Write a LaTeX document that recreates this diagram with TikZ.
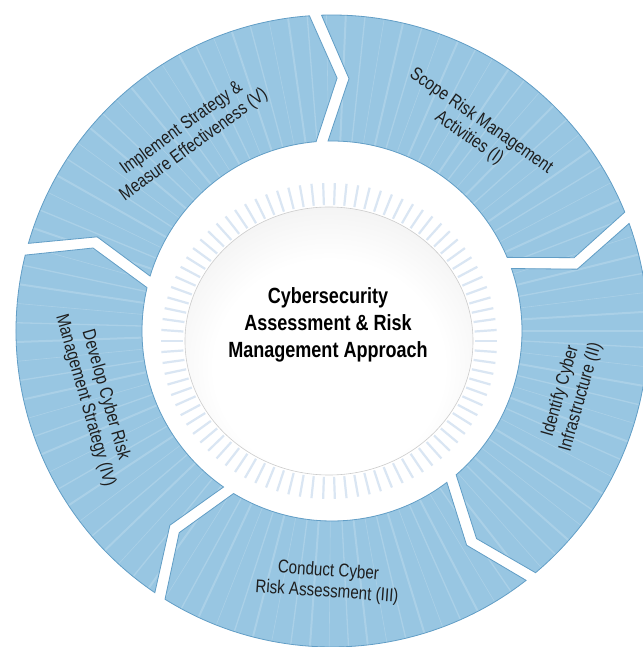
\documentclass[tikz,border=0pt]{standalone}
\usepackage{fontspec}
\setmainfont{Liberation Sans}
\newfontfamily\narrowsf[FakeStretch=0.82]{Liberation Sans}
\usetikzlibrary{shapes.geometric}

\definecolor{segblue}{RGB}{152,198,226}
\definecolor{segedge}{RGB}{98,158,198}
\definecolor{raylight}{RGB}{218,230,243}
\definecolor{labelgray}{RGB}{30,30,30}

% ring geometry (1 unit = 1pt)
\newcommand{\Rout}{316}
\newcommand{\Rin}{190}
\newcommand{\Rmid}{253}
\newcommand{\hgo}{1.1}
\newcommand{\hgi}{1.8}
\newcommand{\hgm}{1.35}
\newcommand{\tipd}{5.5}

% one chevron segment: #1 = notch boundary, #2 = tip boundary (clockwise)
\newcommand{\ringseg}[2]{%
  ({#1-\hgo}:\Rout) arc[start angle={#1-\hgo}, end angle={#2+\hgo}, radius=\Rout]
  -- ({#2-\tipd+\hgm}:\Rmid)
  -- ({#2+\hgi}:\Rin) arc[start angle={#2+\hgi}, end angle={#1-\hgi}, radius=\Rin]
  -- ({#1-\tipd-\hgm}:\Rmid) -- cycle}

\pgfdeclareradialshading{hubshade}{\pgfpoint{0bp}{-8bp}}{%
  color(0bp)=(white); color(20bp)=(white); color(36bp)=(black!8);
  color(46bp)=(black!22); color(52bp)=(black!32)}

\tikzset{
  segment/.style={fill=segblue},
  segline/.style={draw=segedge, line width=0.8pt},
  streak/.style={draw=white, opacity=0.18},
  hubray/.style={draw=raylight, line width=2.2pt},
  hub/.style={ellipse, shading=hubshade, draw=black!20, line width=0.6pt,
    minimum width=288pt, minimum height=268pt, inner sep=0pt},
  hubtitle/.style={align=center, text=black,
    font=\narrowsf\bfseries\fontsize{22}{27}\selectfont},
  seglabel/.style={align=center, text=labelgray, inner sep=0pt,
    font=\narrowsf\fontsize{18.5}{21}\selectfont}
}

\begin{document}
\begin{tikzpicture}[x=1pt, y=1pt]

    \useasboundingbox[fill=white] (-332,-316) rectangle (310,331);

    % ============================================================
    % OUTER RING: FIVE CHEVRON SEGMENTS
    % ============================================================
    \foreach \ta/\tb in {93/21, 21/-51, -51/-123, 237/165, 165/93} {
        \fill[segment] \ringseg{\ta}{\tb};
        \begin{scope}
            \clip \ringseg{\ta}{\tb};
            \foreach \s [count=\i] in {0,3.5,...,357} {
                \pgfmathsetmacro{\w}{0.6+0.7*mod(\i,3)}
                \draw[streak, line width=\w pt] (\s:\Rin) -- (\s:\Rout);
            }
        \end{scope}
        \draw[segline] \ringseg{\ta}{\tb};
    }

    % ============================================================
    % CENTRAL HUB WITH LIGHT RAYS
    % ============================================================
    \foreach \a in {0,4,...,356}
        \draw[hubray] ({-3+146*cos(\a)},{-10+136*sin(\a)})
            -- ({-3+168*cos(\a)},{-10+158*sin(\a)});

    \node[hub] (hub) at (-3,-10) {};
    \node[hubtitle] (title) at (-4,6)
        {Cybersecurity\\Assessment \& Risk\\Management Approach};

    % ============================================================
    % SEGMENT LABELS
    % ============================================================
    \node[seglabel, rotate=-35] (scope) at (54.6:247)
        {Scope Risk Management\\Activities (I)};
    \node[seglabel, rotate=74] (identify) at (-14.8:247)
        {Identify Cyber\\Infrastructure (II)};
    \node[seglabel, rotate=-4] (conduct) at (-91:251)
        {Conduct Cyber\\Risk Assessment (III)};
    \node[seglabel, rotate=-74] (develop) at (195.8:246)
        {Develop Cyber Risk\\Management Strategy (IV)};
    \node[seglabel, rotate=36] (implement) at (126.6:242)
        {Implement Strategy \&\\Measure Effectiveness (V)};

\end{tikzpicture}
\end{document}
